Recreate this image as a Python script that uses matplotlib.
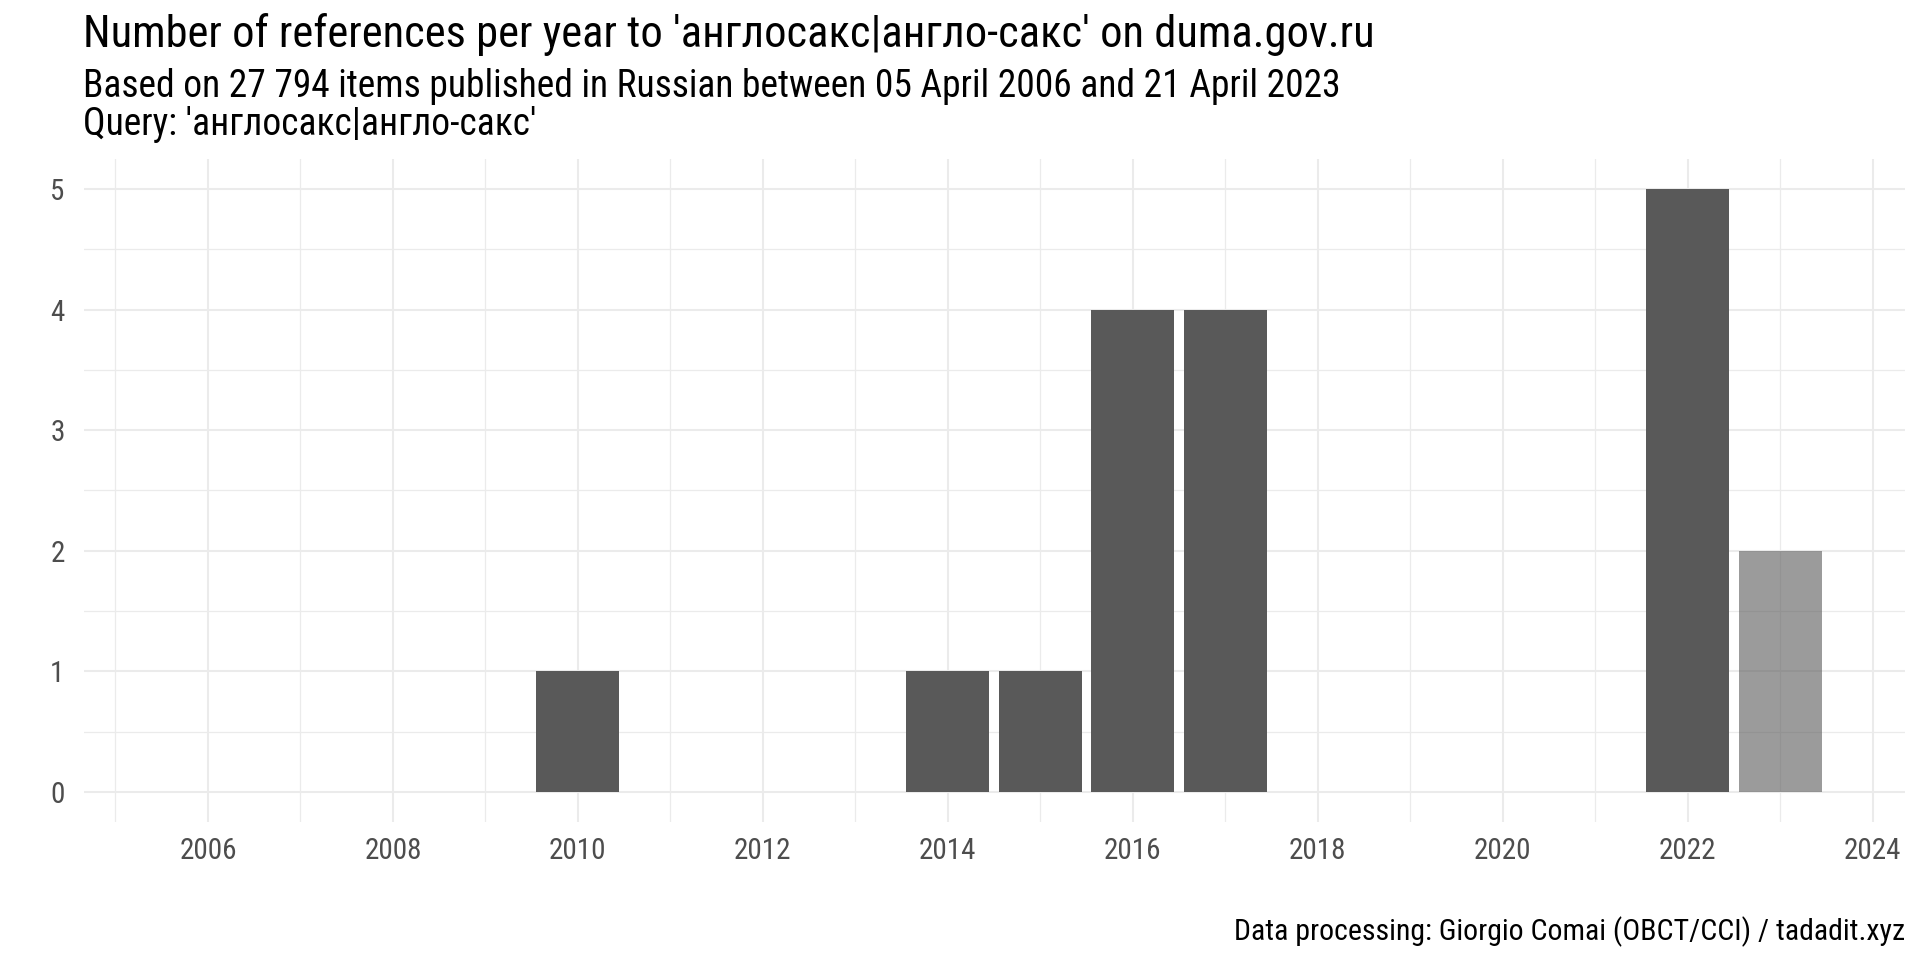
import matplotlib
matplotlib.use("Agg")
import matplotlib.pyplot as plt
from matplotlib import font_manager

# ---- data ----
years = list(range(2006, 2024))
counts = [0, 0, 0, 0, 1, 0, 0, 0, 1, 1, 4, 4, 0, 0, 0, 0, 5, 2]
partial_year = 2023  # incomplete year shown lighter

title = "Number of references per year to 'англосакс|англо-сакс' on duma.gov.ru"
subtitle = ("Based on 27 794 items published in Russian between 05 April 2006 and 21 April 2023\n"
            "Query: 'англосакс|англо-сакс'")
caption = "Data processing: Giorgio Comai (OBCT/CCI) / tadadit.xyz"
x_ticks = [2006, 2008, 2010, 2012, 2014, 2016, 2018, 2020, 2022, 2024]
y_ticks = [0, 1, 2, 3, 4, 5]

# ---- fonts ----
names = {f.name for f in font_manager.fontManager.ttflist}
scale = 1.0
fam = "DejaVu Sans"
for cand, sc in [("Roboto Condensed", 1.0), ("Liberation Sans Narrow", 1.0), ("Roboto", 0.9)]:
    if cand in names:
        fam, scale = cand, sc
        break
plt.rcParams["font.family"] = [fam, "DejaVu Sans"]

W, H = 1920, 960
fig = plt.figure(figsize=(W / 100, H / 100), dpi=100)
left, right, top, bottom = 84, 1905, 159, 822
ax = fig.add_axes([left / W, 1 - bottom / H, (right - left) / W, (bottom - top) / H])

dark = "#595959"
for y, c in zip(years, counts):
    if y == partial_year:
        ax.bar(y, c, width=0.9, color=dark, alpha=0.6, zorder=3, linewidth=0)
    else:
        ax.bar(y, c, width=0.9, color=dark, zorder=3, linewidth=0)

ax.set_xlim(2004.66, 2024.35)
ax.set_ylim(-0.25, 5.25)
ax.set_xticks(x_ticks)
ax.set_yticks(y_ticks)
ax.set_xticks([y + 1 for y in x_ticks[:-1]] + [2005], minor=True)
ax.set_yticks([v + 0.5 for v in y_ticks[:-1]], minor=True)

ax.grid(which="major", color="#EBEBEB", linewidth=1.5, zorder=0)
ax.grid(which="minor", color="#EBEBEB", linewidth=0.9, zorder=0)
ax.set_axisbelow(True)
for s in ax.spines.values():
    s.set_visible(False)
ax.tick_params(which="both", length=0)
ax.tick_params(axis="x", pad=11, labelsize=21 * scale, labelcolor="#4D4D4D")
ax.tick_params(axis="y", pad=14, labelsize=21 * scale, labelcolor="#4D4D4D")

fig.text(83 / W, 1 - 47 / H, title, fontsize=32 * scale, color="black", ha="left", va="baseline")
fig.text(83 / W, 1 - 97 / H, subtitle.split("\n")[0], fontsize=27 * scale, color="black",
         ha="left", va="baseline")
fig.text(83 / W, 1 - 135 / H, subtitle.split("\n")[1], fontsize=27 * scale, color="black",
         ha="left", va="baseline")
fig.text(1905 / W, 1 - 940 / H, caption, fontsize=21.5 * scale, color="black", ha="right", va="baseline")

fig.savefig("out.png", dpi=100, facecolor="white")
